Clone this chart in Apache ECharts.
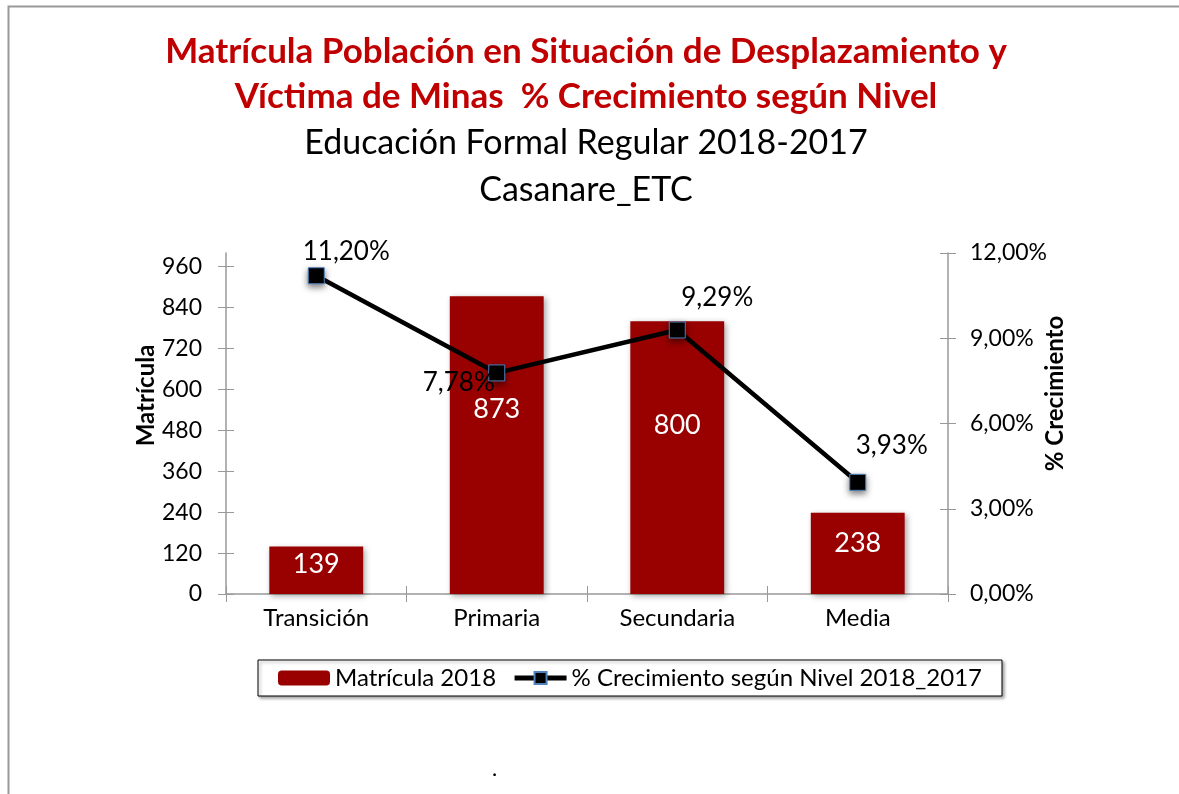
<!DOCTYPE html>
<html>
<head>
<meta charset="utf-8">
<script src="https://cdn.jsdelivr.net/npm/echarts@6/dist/echarts.min.js"></script>
<style>
  html, body { margin: 0; padding: 0; background: #fff; }
  #chart { width: 1179px; height: 794px; }
</style>
</head>
<body>
<div id="chart"></div>
<script>
// datos del grafico
var niveles = ['Transición', 'Primaria', 'Secundaria', 'Media'];
var matricula2018 = [139, 873, 800, 238];
var crecimiento = [11.20, 7.78, 9.29, 3.93];
var ticksMatricula = [0, 120, 240, 360, 480, 600, 720, 840, 960];

// desplazamiento de las etiquetas del % (solo estilo)
var offsetEtiquetas = [[30, 2], [-38, 36], [40, -6], [34, -10]];

var fuente = 'Lato';
var rojo = '#990000';
var gris = '#999';

function pct(v) {
	return v.toFixed(2).replace('.', ',') + '%';
}

var chart = echarts.init(document.getElementById('chart'));

var datosLinea = crecimiento.map(function (v, i) {
	return { value: v, label: { offset: offsetEtiquetas[i] } };
});

// ejes extra solo para dibujar la parte interior de las marcas (tipo cruz)
var ejeCruzX = {
	type: 'category', data: niveles, position: 'bottom',
	axisLine: { show: false }, axisLabel: { show: false },
	axisTick: { show: true, inside: true, length: 8, lineStyle: { color: gris } }
};

var option = {
	backgroundColor: '#fff',
	textStyle: { fontFamily: fuente, color: '#000' },
	title: [
		{
			text: 'Matrícula Población en Situación de Desplazamiento y\nVíctima de Minas  % Crecimiento según Nivel',
			left: 581, top: 24, textAlign: 'center',
			textStyle: { fontFamily: fuente, fontSize: 35, fontWeight: 'bold', color: '#c00000', lineHeight: 45 }
		},
		{
			text: 'Educación Formal Regular 2018-2017\nCasanare_ETC',
			left: 581, top: 115, textAlign: 'center',
			textStyle: { fontFamily: fuente, fontSize: 34, fontWeight: 'normal', color: '#000', lineHeight: 47 }
		}
	],
	graphic: [
		{ type: 'rect', left: 6, top: 4, shape: { width: 1400, height: 1000 },
		  style: { fill: 'none', stroke: gris, lineWidth: 2 }, silent: true },
		{ type: 'text', left: 492, top: 758, style: { text: '.', fontSize: 22, fill: '#000', fontFamily: fuente } }
	],
	legend: {
		left: 258, top: 660,
		padding: [6, 20, 6, 20],
		borderColor: '#000', borderWidth: 1,
		backgroundColor: '#fff',
		shadowColor: 'rgba(0,0,0,0.35)', shadowBlur: 3, shadowOffsetX: 2, shadowOffsetY: 2,
		itemWidth: 52, itemHeight: 15, itemGap: 16,
		textStyle: { fontFamily: fuente, fontSize: 24, color: '#000' },
		data: [
			'Matrícula 2018',
			{ name: '% Crecimiento según Nivel 2018_2017', lineStyle: { width: 5 } }
		]
	},
	grid: { left: 226, right: 231, top: 253, bottom: 200, containLabel: false },
	xAxis: [
		{
			type: 'category',
			data: niveles,
			axisLine: { lineStyle: { color: gris, width: 1.5 } },
			axisTick: { show: true, length: 8, lineStyle: { color: gris } },
			axisLabel: { fontSize: 24, color: '#000', margin: 12, fontFamily: fuente }
		},
		ejeCruzX
	],
	yAxis: [
		{
			type: 'value', min: 0, max: 1000, interval: 120,
			name: 'Matrícula', nameLocation: 'middle', nameRotate: 90, nameGap: 68,
			nameMoveOverlap: false,
			nameTextStyle: { fontSize: 24, fontWeight: 'bold', color: '#000', fontFamily: fuente, padding: [0, 0, 0, 56] },
			axisLine: { show: true, lineStyle: { color: gris, width: 1.5 } },
			axisTick: { show: true, length: 8, customValues: ticksMatricula, lineStyle: { color: gris } },
			axisLabel: { fontSize: 23, color: '#000', margin: 24, customValues: ticksMatricula, fontFamily: fuente },
			splitLine: { show: false }
		},
		{
			type: 'value', min: 0, max: 12, interval: 3, position: 'right',
			name: '% Crecimiento', nameLocation: 'middle', nameRotate: 90, nameGap: 95,
			nameMoveOverlap: false,
			nameTextStyle: { fontSize: 24, fontWeight: 'bold', color: '#000', fontFamily: fuente, padding: [0, 0, 0, 60] },
			axisLine: { show: true, lineStyle: { color: gris, width: 1.5 } },
			axisTick: { show: true, length: 8, lineStyle: { color: gris } },
			axisLabel: { fontSize: 23, color: '#000', margin: 22, formatter: pct, fontFamily: fuente },
			splitLine: { show: false }
		},
		{
			type: 'value', min: 0, max: 1000, interval: 120, position: 'left',
			axisLine: { show: false }, axisLabel: { show: false }, splitLine: { show: false },
			axisTick: { show: true, inside: true, length: 8, customValues: ticksMatricula, lineStyle: { color: gris } }
		},
		{
			type: 'value', min: 0, max: 12, interval: 3, position: 'right',
			axisLine: { show: false }, axisLabel: { show: false }, splitLine: { show: false },
			axisTick: { show: true, inside: true, length: 8, lineStyle: { color: gris } }
		}
	],
	series: [
		{
			name: 'Matrícula 2018',
			type: 'bar',
			yAxisIndex: 0,
			data: matricula2018,
			barWidth: '52%',
			itemStyle: {
				color: rojo,
				shadowColor: 'rgba(0,0,0,0.35)', shadowBlur: 6, shadowOffsetX: 2, shadowOffsetY: 2
			},
			label: {
				show: true, position: ['50%', '38%'], align: 'center', verticalAlign: 'middle',
				color: '#fff', fontSize: 27, fontFamily: fuente
			}
		},
		{
			name: '% Crecimiento según Nivel 2018_2017',
			type: 'line',
			yAxisIndex: 1,
			data: datosLinea,
			symbol: 'rect',
			symbolSize: 16,
			lineStyle: { color: '#000', width: 4.5 },
			itemStyle: {
				color: '#000', borderColor: '#4f81bd', borderWidth: 1,
				shadowColor: 'rgba(0,0,0,0.5)', shadowBlur: 6, shadowOffsetY: 3
			},
			label: {
				show: true, position: 'top', distance: 5,
				color: '#000', fontSize: 26, fontFamily: fuente,
				formatter: function (p) { return pct(p.value); }
			},
			z: 3
		}
	]
};

chart.setOption(option);
</script>
</body>
</html>
